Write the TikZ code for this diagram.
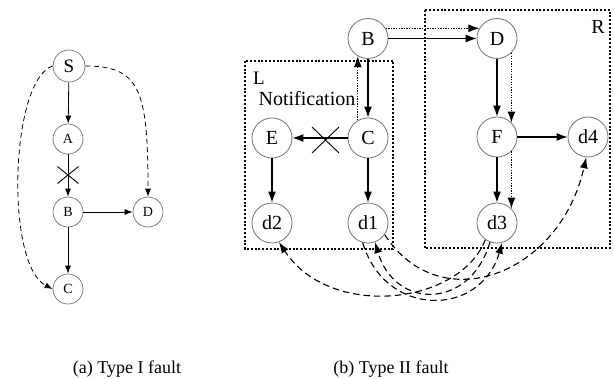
\documentclass[tikz,border=0pt]{standalone}
\usepackage{fontspec}
\setmainfont{Liberation Serif}
\usetikzlibrary{arrows.meta}
\begin{document}
\begin{tikzpicture}[x=1pt,y=-1pt,
  vtx/.style={circle,draw=black!55,line width=0.8pt,minimum size=40pt,inner sep=0pt,font=\fontsize{20}{20}\selectfont},
  vsm/.style={circle,draw=black!55,line width=0.7pt,minimum size=30pt,inner sep=0pt,font=\fontsize{14}{14}\selectfont},
  arr/.style={line width=1.2pt,-{Latex[length=11pt,width=8pt]}},
  arrs/.style={line width=0.8pt,-{Latex[length=8pt,width=6pt]}},
  dotarr/.style={line width=1.2pt,dash pattern=on 1.3pt off 1.3pt,-{Latex[length=11pt,width=8pt]}},
  dasharr/.style={line width=1.1pt,dash pattern=on 6.5pt off 4pt,-{Latex[length=11pt,width=8pt]}},
  dasharrs/.style={line width=0.8pt,dash pattern=on 5pt off 3.5pt,-{Latex[length=8pt,width=6pt]}},
  regbox/.style={line width=2pt,dash pattern=on 2pt off 1.8pt},
  xmark/.style={line width=0.9pt},
  lbl/.style={inner sep=0pt,font=\fontsize{19}{19}\selectfont},
  captext/.style={inner sep=0pt,font=\fontsize{18}{18}\selectfont}
]
\useasboundingbox (0,0) rectangle (614,379);

% ---------- panel (a) ----------
\node[vsm,minimum size=32pt,font=\fontsize{19}{19}\selectfont] (S) at (69,66) {S};
\node[vsm] (A) at (68,139) {A};
\node[vsm] (B) at (68,212) {B};
\node[vsm] (D) at (148,212) {D};
\node[vsm] (C) at (68,289) {C};
\draw[arrs] (S) -- (A);
\draw[arrs] (A) -- (B);
\draw[arrs] (B) -- (D);
\draw[arrs] (B) -- (C);
\draw[dasharrs] (S.west) .. controls (10,80) and (5,265) .. (C.west);
\draw[dasharrs] (S.east) .. controls (140,66) and (148,90) .. (D.north);
\draw[xmark] (57.5,166.5) -- (78.5,183.5) (57.5,183.5) -- (78.5,166.5);
\node[captext] (capa) at (127,369) {(a) Type I fault};

% ---------- panel (b) ----------
\draw[regbox] (245,61) rectangle (393,249);
\draw[regbox] (425,10) rectangle (610,248);
\node[lbl] (Llab) at (259,78) {L};
\node[lbl,font=\fontsize{20}{20}\selectfont] (Rlab) at (598,27) {R};
\node[lbl,font=\fontsize{20}{20}\selectfont] (notif) at (307,99) {Notification};

\node[vtx] (bB) at (368,38.5) {B};
\node[vtx] (bD) at (497,38.5) {D};
\node[vtx] (bE) at (272,138) {E};
\node[vtx] (bC) at (368,138) {C};
\node[vtx] (bF) at (497,137) {F};
\node[vtx] (d4) at (588,137) {d4};
\node[vtx] (d2) at (272,223) {d2};
\node[vtx] (d1) at (368,223) {d1};
\node[vtx] (d3) at (497,223) {d3};

\draw[arr] (bB) -- (bC);
\draw[dotarr] (bC.120) -- (bB.-120);
\draw[arr] (bB) -- (bD);
\draw[dotarr] (bB.30) -- (bD.150);
\draw[arr] (bC) -- (bE);
\draw[xmark] (312,127) -- (339,153) (312,153) -- (339,127);
\draw[arr] (bE) -- (d2);
\draw[arr] (bC) -- (d1);
\draw[arr] (bD) -- (bF);
\draw[dotarr] (bD.-45) -- (bF.45);
\draw[arr] (bF) -- (d3);
\draw[dotarr] (bF.-45) -- (d3.45);
\draw[arr] (bF) -- (d4);

\draw[dasharr] (d3.235) .. controls (460,305) and (330,320) .. (d2.-70);
\draw[dasharr] (d3.-110) .. controls (470,310) and (395,310) .. (d1.-70);
\draw[dasharr] (d1.-105) .. controls (385,318) and (480,318) .. (d3.-75);
\draw[dasharr] (d1.-35) .. controls (440,320) and (560,275) .. (d4.-95);

\node[captext] (capb) at (391,369) {(b) Type II fault};
\end{tikzpicture}
\end{document}
